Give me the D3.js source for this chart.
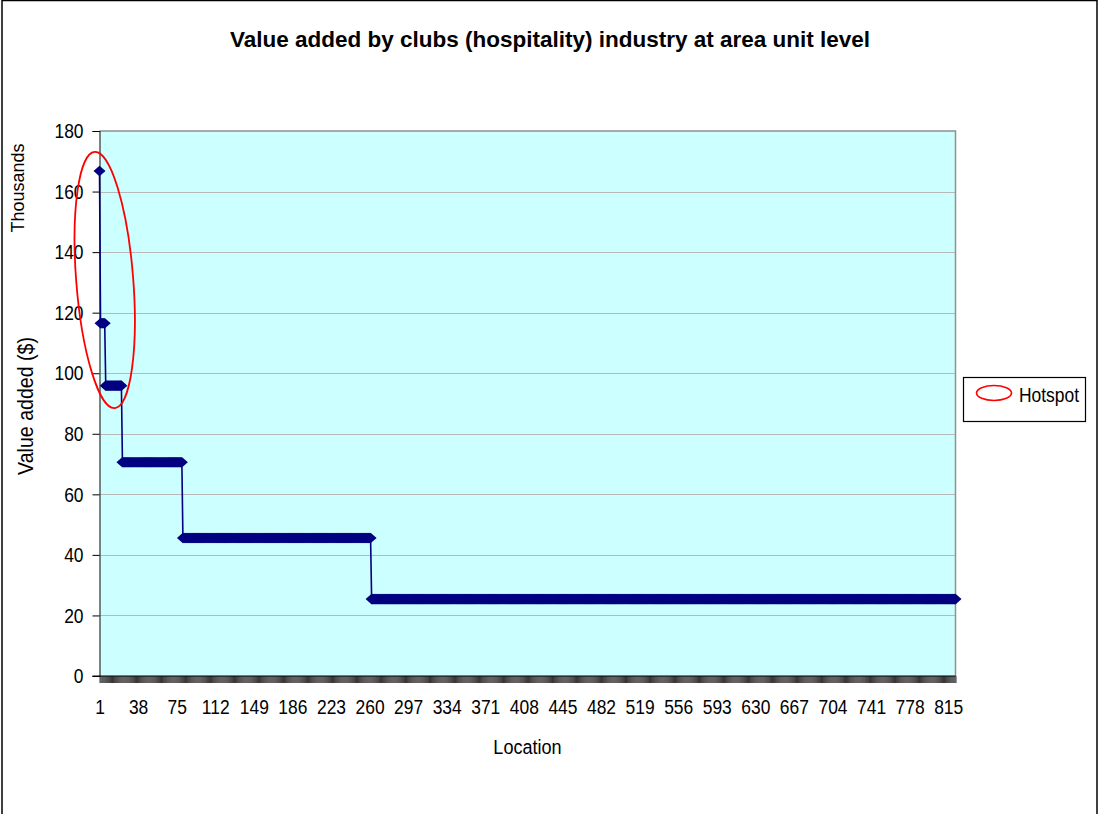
<!DOCTYPE html>
<html>
<head>
<meta charset="utf-8">
<script src="https://cdn.jsdelivr.net/npm/d3@7"></script>
<style>
  html, body { margin: 0; padding: 0; background: #fff; }
  svg text { font-family: "Liberation Sans Narrow", "Arial Narrow", "Liberation Sans", Arial, sans-serif; fill: #000; }
</style>
</head>
<body>
<svg id="chart" width="1100" height="814"></svg>
<script>
// Value added per location, sorted descending; stored as runs of equal values
const stepValues = [166.8, 116.5, 95.9, 70.6, 45.6, 25.4];   // thousands of $
const stepCounts = [1, 5, 16, 58, 181, 561];                // locations in each run
const xTickLabels = [1, 38, 75, 112, 149, 186, 223, 260, 297, 334, 371, 408, 445,
                     482, 519, 556, 593, 630, 667, 704, 741, 778, 815];
const yTickLabels = [0, 20, 40, 60, 80, 100, 120, 140, 160, 180];

const titleText = "Value added by clubs (hospitality) industry at area unit level";
const xTitle = "Location";
const yTitle = "Value added ($)";
const yUnits = "Thousands";
const legendLabel = "Hotspot";

// condensed look for the regular labels
const NARROW = 0.83;

// expand the runs into one value per location
const values = [];
stepValues.forEach((v, i) => { for (let k = 0; k < stepCounts[i]; k++) values.push(v); });
const data = values.map((v, i) => ({ loc: i + 1, value: v }));

const svg = d3.select("#chart");
const plot = { left: 99.5, right: 955.5, top: 131, bottom: 676 };

// outer chart frame
svg.append("rect")
  .attr("x", 2).attr("y", 0.5).attr("width", 1095).attr("height", 830)
  .attr("fill", "#fff").attr("stroke", "#000").attr("stroke-width", 1.5);

const x = d3.scalePoint()
  .domain(data.map(d => d.loc))
  .range([plot.left, plot.right])
  .padding(0);

const y = d3.scaleLinear()
  .domain([0, 180])
  .range([plot.bottom, plot.top]);

// plot background
svg.append("rect")
  .attr("x", plot.left).attr("y", plot.top)
  .attr("width", plot.right - plot.left).attr("height", plot.bottom - plot.top)
  .attr("fill", "#ccffff");

// horizontal gridlines
svg.append("g")
  .selectAll("line")
  .data(yTickLabels.filter(t => t > 0 && t < 180))
  .join("line")
  .attr("x1", plot.left).attr("x2", plot.right)
  .attr("y1", d => Math.round(y(d)) + 0.5).attr("y2", d => Math.round(y(d)) + 0.5)
  .attr("stroke", "#b8b8b8").attr("stroke-width", 1);

// plot border (top and right)
svg.append("path")
  .attr("d", `M${plot.left},${plot.top}H${plot.right}V${plot.bottom}`)
  .attr("fill", "none").attr("stroke", "#909090").attr("stroke-width", 1.5);

// y axis
const yAxis = svg.append("g")
  .attr("transform", `translate(${plot.left},0)`)
  .call(d3.axisLeft(y).tickValues(yTickLabels).tickSize(7).tickPadding(8));
yAxis.select(".domain").attr("stroke", "#333").attr("stroke-width", 1.2);
yAxis.selectAll(".tick line").attr("stroke", "#000");
yAxis.selectAll("text")
  .attr("font-size", 21)
  .attr("x", -16 / NARROW)
  .attr("transform", `scale(${NARROW},1)`);

// x axis: a tick at every location
const xAxisTicks = svg.append("g")
  .attr("transform", `translate(0,${plot.bottom})`)
  .call(d3.axisBottom(x).tickSize(7).tickFormat(""));
xAxisTicks.select(".domain").attr("stroke", "#000").attr("stroke-width", 1.2)
  .attr("d", `M${plot.left - 7},0H${plot.right}`);
xAxisTicks.selectAll(".tick line")
  .attr("stroke", "#000").attr("stroke-width", 0.8);

// x axis labels every 37 locations
const xAxisLabels = svg.append("g")
  .attr("transform", `translate(0,${plot.bottom})`)
  .call(d3.axisBottom(x).tickValues(xTickLabels).tickSize(0).tickPadding(23));
xAxisLabels.select(".domain").remove();
xAxisLabels.selectAll("text")
  .attr("font-size", 21)
  .attr("transform", `scale(${NARROW},1)`);

// series line
svg.append("path")
  .datum(data)
  .attr("fill", "none")
  .attr("stroke", "#000080")
  .attr("stroke-width", 1.6)
  .attr("d", d3.line().x(d => x(d.loc)).y(d => y(d.value)));

// diamond markers
svg.append("g")
  .selectAll("path")
  .data(data)
  .join("path")
  .attr("transform", d => `translate(${x(d.loc)},${y(d.value)})`)
  .attr("d", "M0,-5.3L6,0L0,5.3L-6,0Z")
  .attr("fill", "#000080");

// hotspot ellipse around the leading locations
const hx = x(6), hy = y(130.8);
svg.append("ellipse")
  .attr("cx", 0).attr("cy", 0).attr("rx", 28.5).attr("ry", 128.5)
  .attr("transform", `translate(${hx},${hy}) rotate(-4.5)`)
  .attr("fill", "none").attr("stroke", "#ff0000").attr("stroke-width", 1.8);

// title
svg.append("text")
  .attr("x", 550).attr("y", 47)
  .attr("text-anchor", "middle")
  .attr("font-size", 22.5).attr("font-weight", "bold")
  .text(titleText);

// axis titles
svg.append("text")
  .attr("transform", `translate(${(plot.left + plot.right) / 2},754) scale(0.86,1)`)
  .attr("text-anchor", "middle").attr("font-size", 21)
  .text(xTitle);

svg.append("text")
  .attr("transform", "translate(33,406) rotate(-90) scale(0.89,1)")
  .attr("text-anchor", "middle").attr("font-size", 22)
  .text(yTitle);

svg.append("text")
  .attr("transform", "translate(24,188) rotate(-90)")
  .attr("text-anchor", "middle").attr("font-size", 18)
  .text(yUnits);

// legend
const legend = svg.append("g");
legend.append("rect")
  .attr("x", 963.5).attr("y", 377.5).attr("width", 122).attr("height", 44)
  .attr("fill", "#fff").attr("stroke", "#000").attr("stroke-width", 1.2);
legend.append("ellipse")
  .attr("cx", 994).attr("cy", 393).attr("rx", 17.5).attr("ry", 7.5)
  .attr("fill", "none").attr("stroke", "#ff0000").attr("stroke-width", 1.6);
legend.append("text")
  .attr("transform", `translate(1019,402) scale(${NARROW},1)`)
  .attr("font-size", 21)
  .text(legendLabel);
</script>
</body>
</html>
